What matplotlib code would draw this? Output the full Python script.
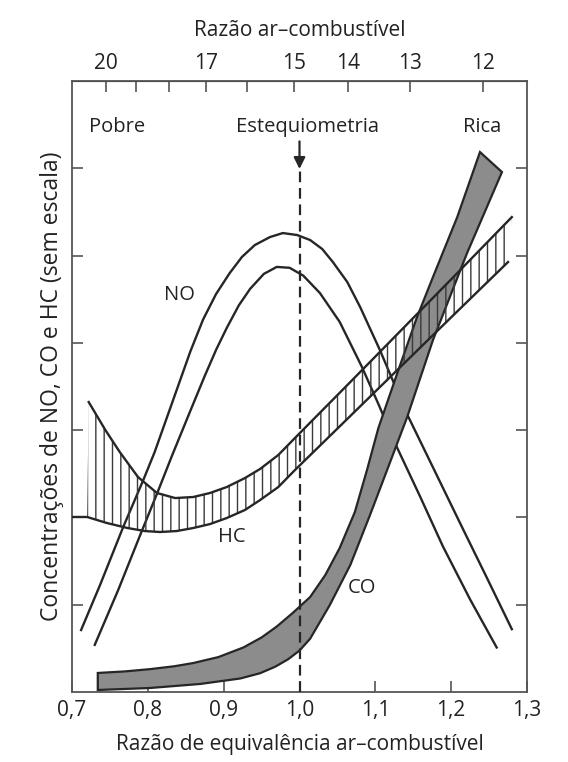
import numpy as np
import matplotlib.pyplot as plt

plt.rcParams['font.family'] = ['Open Sans', 'DejaVu Sans']
plt.rcParams['hatch.linewidth'] = 1.0

# eixo inferior: razao de equivalencia; eixo superior: razao ar-combustivel
phi_ticks = [0.7, 0.8, 0.9, 1.0, 1.1, 1.2, 1.3]
phi_labels = ['0,7', '0,8', '0,9', '1,0', '1,1', '1,2', '1,3']
afr_major = [20, 17, 15, 14, 13, 12]
afr_minor = [19, 18, 16]
afr_stoich = 14.9

# NO (duas curvas)
no_out_x = [0.712, 0.737, 0.767, 0.794, 0.809, 0.838, 0.856, 0.873, 0.890, 0.908, 0.924,
            0.941, 0.961, 0.978, 0.997, 1.014, 1.030, 1.044, 1.063, 1.080, 1.106, 1.142,
            1.179, 1.212, 1.247, 1.280]
no_out_y = [0.710, 1.226, 1.879, 2.428, 2.749, 3.459, 3.900, 4.270, 4.560, 4.800, 4.983,
            5.120, 5.212, 5.258, 5.235, 5.178, 5.075, 4.926, 4.697, 4.410, 3.918, 3.180,
            2.520, 1.930, 1.310, 0.720]
no_in_x = [0.730, 0.761, 0.790, 0.812, 0.832, 0.856, 0.875, 0.890, 0.904, 0.920, 0.935,
           0.953, 0.970, 0.987, 1.005, 1.027, 1.053, 1.082, 1.104, 1.126, 1.159, 1.189,
           1.225, 1.260]
no_in_y = [0.540, 1.170, 1.800, 2.270, 2.710, 3.220, 3.620, 3.920, 4.170, 4.430, 4.620,
           4.790, 4.870, 4.860, 4.770, 4.570, 4.240, 3.730, 3.300, 2.850, 2.240, 1.670,
           1.060, 0.510]

# HC (faixa hachurada)
hc_up_x = [0.722, 0.744, 0.763, 0.787, 0.812, 0.836, 0.860, 0.882, 0.904, 0.928, 0.948,
           0.972, 0.994, 1.067, 1.133, 1.199, 1.280]
hc_up_y = [3.322, 3.001, 2.749, 2.463, 2.280, 2.222, 2.234, 2.280, 2.348, 2.451, 2.555,
           2.715, 2.910, 3.551, 4.135, 4.719, 5.441]
hc_lo_x = [0.701, 0.720, 0.746, 0.773, 0.796, 0.816, 0.838, 0.860, 0.882, 0.904, 0.928,
           0.948, 0.972, 0.994, 1.067, 1.133, 1.199, 1.275]
hc_lo_y = [2.005, 2.005, 1.936, 1.879, 1.844, 1.833, 1.844, 1.879, 1.924, 1.993, 2.085,
           2.199, 2.348, 2.543, 3.162, 3.723, 4.284, 4.926]

# CO (faixa cinza)
co_up_x = [0.734, 0.770, 0.803, 0.835, 0.860, 0.893, 0.926, 0.950, 0.970, 0.991, 1.014,
           1.034, 1.053, 1.073, 1.089, 1.104, 1.129, 1.155, 1.176, 1.208, 1.238]
co_up_y = [0.218, 0.236, 0.262, 0.295, 0.332, 0.400, 0.510, 0.625, 0.750, 0.905, 1.088,
           1.340, 1.650, 2.062, 2.543, 3.024, 3.654, 4.296, 4.754, 5.441, 6.186]
co_lo_x = [0.734, 0.803, 0.869, 0.922, 0.948, 0.968, 0.985, 1.000, 1.014, 1.040, 1.067,
           1.093, 1.119, 1.142, 1.176, 1.221, 1.267]
co_lo_y = [0.023, 0.046, 0.092, 0.155, 0.215, 0.290, 0.375, 0.475, 0.610, 0.997, 1.455,
           2.028, 2.623, 3.150, 4.032, 5.029, 5.957]

ink = '#262626'
tc = '#222222'
fig = plt.figure(figsize=(5.68, 7.62), dpi=100)
ax = fig.add_axes([72/568, 70/762, 455/568, 611/762])
ax.set_xlim(0.7, 1.3)
ax.set_ylim(0, 7)

ax.plot(no_out_x, no_out_y, color=ink, lw=1.7, zorder=2)
ax.plot(no_in_x, no_in_y, color=ink, lw=1.7, zorder=2)

co_x = co_up_x + co_lo_x[::-1]
co_y = co_up_y + co_lo_y[::-1]
ax.fill(co_x, co_y, facecolor='#8c8c8c', edgecolor=ink, lw=1.6, zorder=3)

hc_x = hc_up_x + hc_lo_x[1:][::-1]
hc_y = hc_up_y + hc_lo_y[1:][::-1]
ax.fill(hc_x, hc_y, facecolor='none', edgecolor='#3a3a3a', hatch='||', lw=0, zorder=4)
ax.plot(hc_up_x, hc_up_y, color=ink, lw=1.7, zorder=5)
ax.plot(hc_lo_x, hc_lo_y, color=ink, lw=1.7, zorder=5)

ax.plot([1.0, 1.0], [0, 5.98], color=ink, lw=1.6, ls=(0, (4.8, 2.6)), zorder=6)
ax.annotate('', xy=(1.0, 5.96), xytext=(1.0, 6.34),
            arrowprops=dict(arrowstyle='-|>', color=ink, lw=1.6, mutation_scale=17))

ax.text(0.759, 6.47, 'Pobre', ha='center', va='center', fontsize=14.5, color=tc)
ax.text(1.011, 6.47, 'Estequiometria', ha='center', va='center', fontsize=14.5, color=tc)
ax.text(1.241, 6.47, 'Rica', ha='center', va='center', fontsize=14.5, color=tc)
ax.text(0.842, 4.55, 'NO', ha='center', va='center', fontsize=14.5, color=tc)
ax.text(0.911, 1.78, 'HC', ha='center', va='center', fontsize=14.5, color=tc)
ax.text(1.082, 1.19, 'CO', ha='center', va='center', fontsize=14.5, color=tc)

ax.set_xticks(phi_ticks)
ax.set_xticklabels(phi_labels, fontsize=15, color=tc)
ax.set_yticks([1, 2, 3, 4, 5, 6])
ax.tick_params(direction='in', length=8, width=1.2, color='#555555', right=True,
               labelleft=False, pad=6)
for s in ax.spines.values():
    s.set_color('#555555')
    s.set_linewidth(1.3)
ax.set_xlabel('Razão de equivalência ar–combustível', fontsize=15, color=tc, labelpad=9)
ax.set_ylabel('Concentrações de NO, CO e HC (sem escala)', fontsize=16.5, color=tc, labelpad=6)

top = ax.secondary_xaxis('top', functions=(lambda p: afr_stoich / p, lambda a: afr_stoich / a))
top.set_xticks(afr_major)
top.set_xticklabels([str(a) for a in afr_major], fontsize=15, color=tc)
top.set_xticks(afr_minor, minor=True)
top.tick_params(which='both', direction='in', length=8, width=1.2, color='#555555', pad=5)
top.set_xlabel('Razão ar–combustível', fontsize=15, color=tc, labelpad=12)

fig.savefig('out.png', dpi=100, facecolor='white')
